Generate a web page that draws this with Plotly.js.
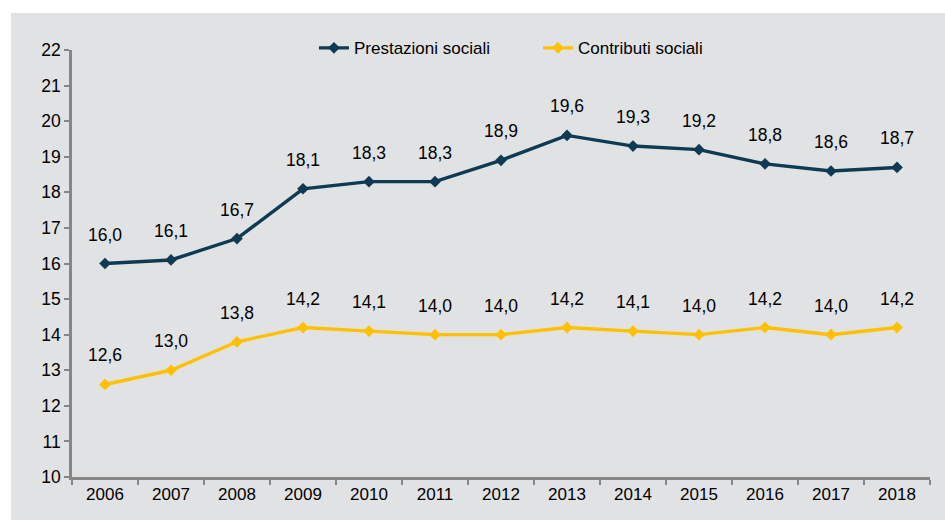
<!DOCTYPE html>
<html>
<head>
<meta charset="utf-8">
<script src="https://cdn.plot.ly/plotly-3.0.1.min.js"></script>
<style>
html,body{margin:0;padding:0;background:#ffffff;width:945px;height:520px;overflow:hidden;}
#chart{position:absolute;left:11px;top:13px;width:934px;height:507px;}
</style>
</head>
<body>
<div id="chart"></div>
<script>
const years = ['2006','2007','2008','2009','2010','2011','2012','2013','2014','2015','2016','2017','2018'];
const prestazioni = [16.0,16.1,16.7,18.1,18.3,18.3,18.9,19.6,19.3,19.2,18.8,18.6,18.7];
const contributi  = [12.6,13.0,13.8,14.2,14.1,14.0,14.0,14.2,14.1,14.0,14.2,14.0,14.2];
const seriesNames = ['Prestazioni sociali','Contributi sociali'];
const yTicks = [10,11,12,13,14,15,16,17,18,19,20,21,22];

const navy = '#0f3a54';
const gold = '#ffc000';
const FONT = 'Liberation Sans, Arial, sans-serif';
const fmt = v => v.toFixed(1).replace('.', ',');

const traces = [
  {x: years, y: prestazioni, name: seriesNames[0], type: 'scatter', mode: 'lines+markers',
   line: {color: navy, width: 3.4}, marker: {symbol: 'diamond', size: 9, color: navy}},
  {x: years, y: contributi, name: seriesNames[1], type: 'scatter', mode: 'lines+markers',
   line: {color: gold, width: 3.4}, marker: {symbol: 'diamond', size: 9, color: gold}}
];

const annotations = [];
[prestazioni, contributi].forEach(function (arr) {
  arr.forEach(function (v, i) {
    annotations.push({
      x: i, y: v, xref: 'x', yref: 'y', text: fmt(v),
      showarrow: false, yanchor: 'middle', xanchor: 'center', yshift: 29,
      font: {family: FONT, size: 17.5, color: '#000000'}
    });
  });
});

const layout = {
  width: 934, height: 507,
  paper_bgcolor: '#e1e2e4', plot_bgcolor: '#e1e2e4',
  margin: {l: 61, r: 15, t: 37, b: 43},
  font: {family: FONT, size: 17, color: '#000000'},
  showlegend: true,
  legend: {orientation: 'h', x: 0.282, xanchor: 'left', y: 1.004, yanchor: 'middle',
    entrywidth: 179, entrywidthmode: 'pixels',
    bgcolor: 'rgba(0,0,0,0)', font: {family: FONT, size: 17, color: '#000000'}},
  xaxis: {type: 'category', showgrid: false, zeroline: false, showline: true,
    linecolor: '#868686', linewidth: 2.5, ticks: 'outside', tickson: 'boundaries',
    ticklen: 5, tickwidth: 2, tickcolor: '#868686', range: [-0.5, 12.5],
    tickfont: {family: FONT, size: 17, color: '#000000'}},
  yaxis: {range: [10, 22], tickvals: yTicks, ticktext: yTicks.map(String),
    showgrid: false, zeroline: false, showline: true,
    linecolor: '#868686', linewidth: 2.5, ticks: 'outside', ticklen: 5, tickwidth: 2,
    tickcolor: '#868686', tickfont: {family: FONT, size: 17.5, color: '#000000'}},
  annotations: annotations
};

Plotly.newPlot('chart', traces, layout, {displayModeBar: false});
</script>
</body>
</html>
